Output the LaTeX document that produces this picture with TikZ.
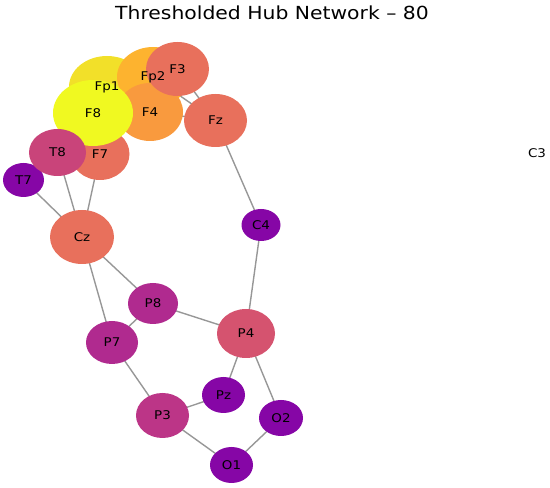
\documentclass[tikz,border=0pt]{standalone}
\usepackage{fontspec}
\setmainfont{DejaVu Sans}
\usepackage{tikz}
\usetikzlibrary{shapes.geometric, backgrounds}
\definecolor{hubyellow}{HTML}{F0F921}
\definecolor{hubgold}{HTML}{F2E029}
\definecolor{hubamber}{HTML}{FDB32F}
\definecolor{huborange}{HTML}{F99A3E}
\definecolor{hubsalmon}{HTML}{E8705C}
\definecolor{hubrose}{HTML}{D5536F}
\definecolor{hubpink}{HTML}{C9447A}
\definecolor{hubmagenta}{HTML}{BC3587}
\definecolor{hubplum}{HTML}{B02A8F}
\definecolor{hubviolet}{HTML}{8606A6}
\definecolor{edgegray}{HTML}{979797}

\begin{document}
\begin{tikzpicture}[
        x=1pt, y=1pt,
        hub/.style={ellipse, inner sep=0pt, draw=none},
        tag/.style={inner sep=0pt, font=\fontsize{12}{14}\selectfont},
        link/.style={draw=edgegray, line width=1.4pt},
      ]
        \useasboundingbox (0,0) rectangle (550,488);

        \node[font=\fontsize{18}{20}\selectfont] (title) at (272,475)
          {\scalebox{1.13}[1]{Thresholded Hub Network – 80}};

        \node[hub, fill=hubgold, minimum width=76pt, minimum height=62pt] (fp1) at (107,401) {};
        \node[hub, fill=hubamber, minimum width=72pt, minimum height=60pt] (fp2) at (153,411) {};
        \node[hub, fill=hubsalmon, minimum width=59pt, minimum height=52pt] (f7) at (100,334) {};
        \node[hub, fill=huborange, minimum width=66pt, minimum height=58pt] (f4) at (150,376) {};
        \node[hub, fill=hubsalmon, minimum width=63pt, minimum height=54pt] (f3) at (177.5,419) {};
        \node[hub, fill=hubsalmon, minimum width=63pt, minimum height=53pt] (fz) at (215.5,367.5) {};
        \node[hub, fill=hubyellow, minimum width=80pt, minimum height=66pt] (f8) at (93,375) {};
        \node[hub, fill=hubviolet, minimum width=41pt, minimum height=34pt] (t7) at (23.5,308) {};
        \coordinate (c3) at (537,335);
        \node[hub, fill=hubsalmon, minimum width=64pt, minimum height=54pt] (cz) at (82,251) {};
        \node[hub, fill=hubviolet, minimum width=39pt, minimum height=32pt] (c4) at (261,263) {};
        \node[hub, fill=hubpink, minimum width=57pt, minimum height=47pt] (t8) at (57.5,335.5) {};
        \node[hub, fill=hubplum, minimum width=52pt, minimum height=43pt] (p7) at (112,145.5) {};
        \node[hub, fill=hubmagenta, minimum width=53pt, minimum height=45pt] (p3) at (162.5,72.5) {};
        \node[hub, fill=hubviolet, minimum width=43pt, minimum height=36pt] (pz) at (223.5,93) {};
        \node[hub, fill=hubrose, minimum width=58pt, minimum height=49pt] (p4) at (246,154.5) {};
        \node[hub, fill=hubplum, minimum width=50pt, minimum height=41pt] (p8) at (153,184.5) {};
        \node[hub, fill=hubviolet, minimum width=43pt, minimum height=36pt] (o1) at (231.5,23) {};
        \node[hub, fill=hubviolet, minimum width=44pt, minimum height=36pt] (o2) at (281,70) {};

        \foreach \hubname/\hubtext in {fp1/Fp1, fp2/Fp2, f7/F7, f4/F4, f3/F3, fz/Fz, f8/F8,
            t7/T7, c3/C3, cz/Cz, c4/C4, t8/T8, p7/P7, p3/P3, pz/Pz, p4/P4, p8/P8, o1/O1, o2/O2}
          \node[tag] (\hubname-tag) at (\hubname) {\scalebox{1.12}[1]{\hubtext}};

        \begin{scope}[on background layer]
          \draw[link] (fp2.center) -- (fz.center);
          \draw[link] (f3.center) -- (fz.center);
          \draw[link] (f4.center) -- (fz.center);
          \draw[link] (fz.center) -- (c4.center);
          \draw[link] (c4.center) -- (p4.center);
          \draw[link] (t7.center) -- (cz.center);
          \draw[link] (t8.center) -- (cz.center);
          \draw[link] (f7.center) -- (cz.center);
          \draw[link] (cz.center) -- (p8.center);
          \draw[link] (cz.center) -- (p7.center);
          \draw[link] (p8.center) -- (p7.center);
          \draw[link] (p8.center) -- (p4.center);
          \draw[link] (p7.center) -- (p3.center);
          \draw[link] (p3.center) -- (pz.center);
          \draw[link] (pz.center) -- (p4.center);
          \draw[link] (p4.center) -- (o2.center);
          \draw[link] (o2.center) -- (o1.center);
          \draw[link] (p3.center) -- (o1.center);
        \end{scope}
      \end{tikzpicture}
\end{document}
